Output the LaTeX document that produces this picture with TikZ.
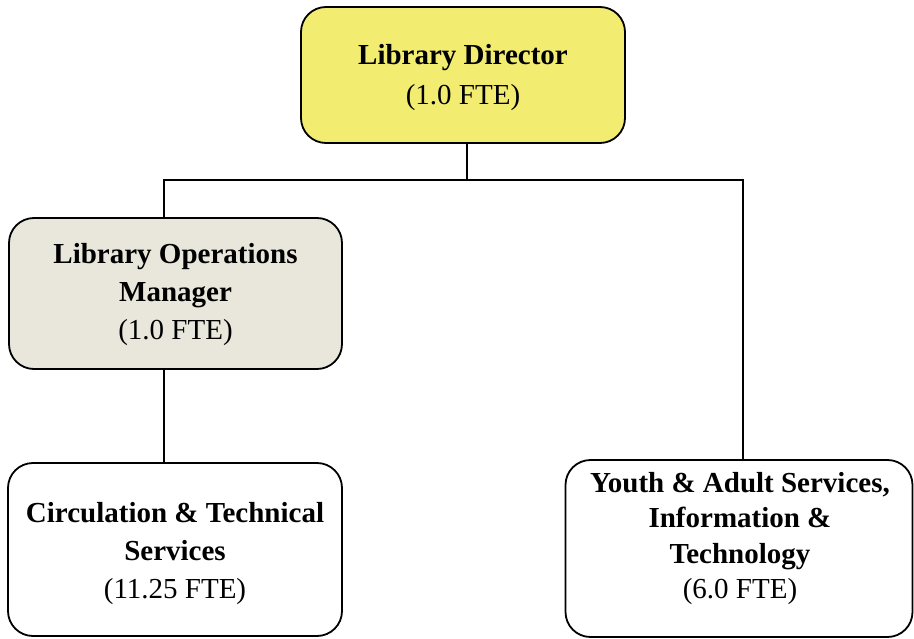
\documentclass[tikz,border=0pt]{standalone}
\usepackage{fontspec}
\setmainfont{Liberation Serif}
\definecolor{diryellow}{HTML}{F2EC70}
\definecolor{opsgrey}{HTML}{E9E7DC}
\tikzset{
  orgbox/.style={draw=black, line width=1.8bp, rounded corners=25bp, inner sep=0pt},
  orgtxt/.style={align=center, inner sep=0pt, anchor=north, font=\fontsize{29bp}{38bp}\selectfont},
  conn/.style={draw=black, line width=1.5bp}
}
\newcommand{\topstrut}{\rule{0pt}{22bp}}
\begin{document}
\begin{tikzpicture}[x=1bp,y=-1bp]
\useasboundingbox (0,0) rectangle (914,639);
% boxes
\node[orgbox, fill=diryellow, minimum width=324bp, minimum height=136bp] (dir) at (463,75) {};
\node[orgbox, fill=opsgrey, minimum width=333bp, minimum height=151bp] (ops) at (175.5,293.5) {};
\node[orgbox, fill=white, minimum width=334bp, minimum height=173bp] (circ) at (175,549.5) {};
\node[orgbox, fill=white, minimum width=347bp, minimum height=177bp] (youth) at (739,548.5) {};
% texts
\node[orgtxt] (dirT) at (463,42) {\topstrut\textbf{Library Director}\\[2bp](1.0 FTE)};
\node[orgtxt] (opsT) at (175.5,241) {\topstrut\textbf{Library Operations}\\\textbf{Manager}\\(1.0 FTE)};
\node[orgtxt] (circT) at (175,500) {\topstrut\textbf{Circulation \& Technical}\\\textbf{Services}\\(11.25 FTE)};
\node[orgtxt, font=\fontsize{29bp}{35.5bp}\selectfont] (youthT) at (740,470) {\topstrut\textbf{Youth \& Adult Services,}\\\textbf{Information \&}\\\textbf{Technology}\\(6.0 FTE)};
% connectors
\coordinate (jM) at (467,180);
\coordinate (jL) at (164,180);
\coordinate (jR) at (743,180);
\draw[conn] (jM |- dir.south) -- (jM);
\draw[conn] (jL |- ops.north) -- (jL) -- (jR) -- (jR |- youth.north);
\draw[conn] (jL |- ops.south) -- (jL |- circ.north);
\end{tikzpicture}
\end{document}
